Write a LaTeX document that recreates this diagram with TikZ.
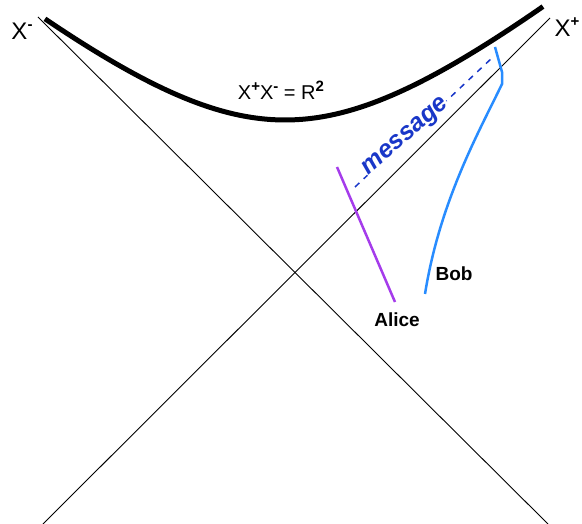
\documentclass[tikz,border=0pt]{standalone}
\usepackage{fontspec}
\setmainfont{Liberation Sans}
\definecolor{bobblue}{RGB}{40,140,255}
\definecolor{msgblue}{RGB}{25,55,200}
\definecolor{alicepurple}{RGB}{165,60,235}
\newcommand{\upmark}[1]{\raisebox{0.42em}{\fontsize{15}{15}\selectfont\bfseries #1}}

\begin{document}
\begin{tikzpicture}[x=1pt, y=-1pt,
  axis/.style={line width=0.9pt},
  horizon/.style={line width=5pt},
  axislabel/.style={font=\fontsize{24}{24}\selectfont},
  namelabel/.style={font=\fontsize{19}{19}\selectfont\bfseries}]
\useasboundingbox (0,0) rectangle (582,524);

% --- light cone ---
\coordinate (xm top) at (38,17);
\coordinate (xm bot) at (548,524);
\coordinate (xp bot) at (43,524);
\coordinate (xp top) at (550,18);
\draw[axis] (xm top) -- (xm bot);
\draw[axis] (xp bot) -- (xp top);
\node[axislabel] (xminus) at (22,31) {X\upmark{-}};
\node[axislabel] (xplus) at (567,27) {X\upmark{+}};

% --- hyperbola ---
\draw[horizon] plot[domain=-2.4:2.58, samples=80]
  ({285+100*\x},{273-100*sqrt(2.3409+0.715*\x*\x)});
\node[font=\fontsize{20}{20}\selectfont] (hyp) at (281,90) {X\upmark{+}X\upmark{-} = R\upmark{2}};

% --- Alice ---
\coordinate (alice top) at (337,167);
\coordinate (alice bot) at (395,302);
\draw[alicepurple, line width=2.5pt] (alice top) -- (alice bot);
\node[namelabel] (alice) at (397,320) {Alice};

% --- Bob ---
\coordinate (bob bot) at (425,294);
\coordinate (bob kink) at (502,84);
\coordinate (bob top) at (495,47);
\draw[bobblue, line width=2.5pt] (bob bot) .. controls (440,200) and (480,130) .. (bob kink)
  -- (502,72) -- (bob top);
\node[namelabel] (bob) at (454,274) {Bob};

% --- message ---
\coordinate (msg start) at (355,187);
\coordinate (msg end) at (493,57);
\draw[msgblue, dash pattern=on 6pt off 6pt, line width=1.5pt] (msg start) -- (msg end);
\node[msgblue, fill=white, inner sep=0.5pt, rotate=41,
  font=\fontsize{25}{25}\selectfont\bfseries\itshape] (msg) at (406,137) {message};

\end{tikzpicture}
\end{document}
